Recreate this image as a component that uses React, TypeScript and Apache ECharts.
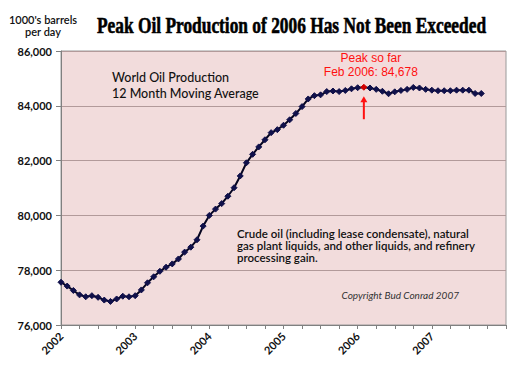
import React, { useEffect, useRef } from "react";
import * as echarts from "echarts";

// x axis: monthly categories Jan 2002 .. Jan 2008
const years = [2002, 2003, 2004, 2005, 2006, 2007];
const monthNames = ["Jan", "Feb", "Mar", "Apr", "May", "Jun", "Jul", "Aug", "Sep", "Oct", "Nov", "Dec"];
const categories: string[] = [];
years.forEach((y) => monthNames.forEach((m) => categories.push(`${m} ${y}`)));
categories.push("Jan 2008");

// World oil production, 12 month moving average, 1000's barrels per day (Jan 2002 .. Sep 2007)
const production = [
  77560, 77420, 77260, 77100, 77030, 77070, 77010, 76910, 76860, 76950, 77050, 77030,
  77070, 77280, 77540, 77760, 77960, 78110, 78230, 78410, 78660, 78840, 79110, 79610,
  80000, 80230, 80430, 80700, 81010, 81440, 81920, 82230, 82500, 82760, 83020, 83130,
  83290, 83490, 83720, 83970, 84250, 84370, 84400, 84520, 84540, 84520, 84560, 84620,
  84660, 84678, 84650, 84600, 84530, 84440, 84510, 84560, 84600, 84670, 84650, 84600,
  84570, 84550, 84550, 84550, 84570, 84570, 84570, 84450, 84450,
];

const yMin = 76000;
const yMax = 86000;
const yStep = 2000;

const peakIndex = 49;
const peakLabel = ["Peak so far", "Feb 2006: 84,678"];

const titleText = "Peak Oil Production of 2006 Has Not Been Exceeded";
const unitLines = ["1000's barrels", "per day"];
const seriesNote = ["World Oil Production", "12 Month Moving Average"];
const footNote = [
  "Crude oil (including lease condensate), natural",
  "gas plant liquids, and other liquids, and refinery",
  "processing gain.",
];
const copyright = "Copyright Bud Conrad 2007";

const FONT = "Lato, 'DejaVu Sans', sans-serif";

export default function App() {
  const ref = useRef<HTMLDivElement>(null);

  useEffect(() => {
    if (!ref.current) return;
    const chart = echarts.init(ref.current, undefined, { renderer: "svg" });

    const seriesData = production.map((v, i) =>
      i === peakIndex
        ? { value: v, itemStyle: { color: "#d00000", borderColor: "#d00000" } }
        : v
    );

    const option: any = {
      animation: false,
      backgroundColor: "#ffffff",
      grid: {
        left: 61,
        right: 14,
        top: 51,
        bottom: 41,
        show: true,
        backgroundColor: "#f2dcdc",
        borderColor: "#9a9a9a",
        borderWidth: 1,
      },
      xAxis: {
        type: "category",
        data: categories,
        boundaryGap: false,
        axisLine: { lineStyle: { color: "#808080", width: 1 } },
        axisTick: { show: true, interval: 2, length: 4, lineStyle: { color: "#808080" } },
        axisLabel: {
          interval: (i: number) => i % 12 === 0 && i < 72,
          formatter: (v: string) => v.split(" ")[1],
          rotate: 45,
          margin: 9,
          fontSize: 11,
          fontWeight: "bold",
          fontFamily: FONT,
          color: "#111",
        },
        splitLine: { show: false },
      },
      yAxis: {
        type: "value",
        min: yMin,
        max: yMax,
        interval: yStep,
        axisLine: { show: true, lineStyle: { color: "#808080", width: 1 } },
        axisTick: { show: true, length: 5, lineStyle: { color: "#808080" } },
        axisLabel: {
          margin: 9,
          fontSize: 11,
          fontWeight: "bold",
          fontFamily: FONT,
          color: "#111",
          formatter: (v: number) => v.toLocaleString("en-US"),
        },
        splitLine: { show: true, lineStyle: { color: "#b29a9a", width: 1 } },
      },
      series: [
        {
          type: "line",
          data: seriesData,
          symbol: "diamond",
          symbolSize: 6,
          showAllSymbol: true,
          lineStyle: { color: "#050520", width: 2 },
          itemStyle: { color: "#10104a", borderColor: "#10104a" },
          z: 3,
        },
      ],
      graphic: [],
    };

    chart.setOption(option);

    const [px, py] = chart.convertToPixel({ xAxisIndex: 0, yAxisIndex: 0 }, [
      peakIndex,
      production[peakIndex],
    ]) as number[];

    const titleSize = 23;
    const graphic: any[] = [
      {
        type: "text",
        x: 97,
        y: 25,
        scaleX: 0.755,
        originX: 0,
        originY: 0,
        style: {
          text: titleText,
          font: `bold ${titleSize}px 'Liberation Serif', serif`,
          fill: "#000",
          stroke: "#000",
          lineWidth: 0.6,
          verticalAlign: "middle",
          align: "left",
        },
      },
      ...unitLines.map((t, i) => ({
        type: "text",
        x: 43,
        y: 19 + i * 12,
        style: {
          text: t,
          font: `600 11px ${FONT}`,
          fill: "#111",
          align: "center",
          verticalAlign: "middle",
        },
      })),
      ...seriesNote.map((t, i) => ({
        type: "text",
        x: 112,
        y: 77 + i * 16,
        style: {
          text: t,
          font: `500 12.5px ${FONT}`,
          fill: "#111",
          align: "left",
          verticalAlign: "middle",
        },
      })),
      ...footNote.map((t, i) => ({
        type: "text",
        x: 237,
        y: 233 + i * 12,
        style: {
          text: t,
          font: `600 11.5px ${FONT}`,
          fill: "#111",
          align: "left",
          verticalAlign: "middle",
        },
      })),
      {
        type: "text",
        x: 459,
        y: 295,
        style: {
          text: copyright,
          font: `italic 10px ${FONT}`,
          fill: "#333",
          align: "right",
          verticalAlign: "middle",
        },
      },
      ...peakLabel.map((t, i) => ({
        type: "text",
        x: px + 7,
        y: py - 29 + i * 14,
        style: {
          text: t,
          font: `12px 'Liberation Sans', Arial, sans-serif`,
          fill: "#ff1010",
          align: "center",
          verticalAlign: "middle",
        },
      })),
      {
        type: "line",
        shape: { x1: px, y1: py + 32, x2: px, y2: py + 13 },
        style: { stroke: "#ff1010", lineWidth: 2 },
        z: 10,
      },
      {
        type: "polygon",
        shape: {
          points: [
            [px - 3.5, py + 15],
            [px + 3.5, py + 15],
            [px, py + 9],
          ],
        },
        style: { fill: "#ff1010" },
        z: 10,
      },
    ];

    chart.setOption({ graphic });

    return () => chart.dispose();
  }, []);

  return (
    <div
      ref={ref}
      style={{ position: "absolute", left: 0, top: 0, width: 520, height: 366 }}
    />
  );
}
